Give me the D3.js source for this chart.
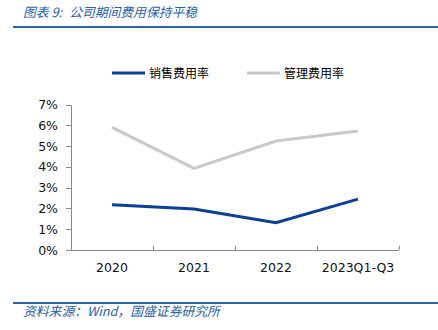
<!DOCTYPE html>
<html><head><meta charset="utf-8">
<script src="https://cdn.jsdelivr.net/npm/d3@7"></script>
<style>
body{margin:0;background:#fff;}
svg{display:block;}
</style></head><body>
<svg id="c" width="438" height="330"></svg>
<script>
const categories = ["2020","2021","2022","2023Q1-Q3"];
const salesRate = [2.18, 1.97, 1.31, 2.45];
const adminRate = [5.90, 3.93, 5.24, 5.72];
const yTicks = [0,1,2,3,4,5,6,7];
const seriesNames = ["销售费用率","管理费用率"];
const seriesColors = ["#0B3F97","#C9C9C9"];

const svg = d3.select("#c");
const font = "'Noto Sans CJK SC', sans-serif";
const numFont = "'DejaVu Sans', Verdana, sans-serif";
const titleBlue = "#2B5EA8";

const t = svg.append("text").attr("x",23).attr("y",17).attr("font-family",font)
  .attr("font-size",12.8).attr("font-style","italic").attr("fill",titleBlue);
t.append("tspan").text("图表 9:");
t.append("tspan").attr("dx",7).text("公司期间费用保持平稳");
svg.append("line").attr("x1",13).attr("x2",438).attr("y1",27).attr("y2",27)
  .attr("stroke","#2E63AA").attr("stroke-width",2.2);

svg.append("line").attr("x1",13).attr("x2",438).attr("y1",303).attr("y2",303)
  .attr("stroke","#2E63AA").attr("stroke-width",2.2);
svg.append("text").attr("x",23).attr("y",316).attr("font-family",font)
  .attr("font-size",12.8).attr("font-style","italic").attr("fill",titleBlue)
  .text("资料来源：Wind，国盛证券研究所");

const x = d3.scaleBand().domain(categories).range([71,399]);
const y = d3.scaleLinear().domain([0,7]).range([250,104.5]);

// y axis
const yAxis = svg.append("g").attr("transform","translate(71,0)")
  .call(d3.axisLeft(y).tickValues(yTicks).tickFormat(d=>d+"%").tickSize(5).tickPadding(8));
yAxis.selectAll("path,line").attr("stroke","#888").attr("shape-rendering","crispEdges");
yAxis.selectAll("text").attr("font-family",numFont).attr("font-size",12.5).attr("fill","#111");

// x axis with inward ticks at band boundaries
const xg = svg.append("g").attr("transform","translate(0,250)");
xg.append("line").attr("x1",71).attr("x2",399).attr("y1",0).attr("y2",0)
  .attr("stroke","#888").attr("shape-rendering","crispEdges");
const bounds = categories.map(c=>x(c)+x.bandwidth());
xg.selectAll("line.tk").data(bounds).enter().append("line").attr("class","tk")
  .attr("x1",d=>d).attr("x2",d=>d).attr("y1",0).attr("y2",-4)
  .attr("stroke","#888").attr("shape-rendering","crispEdges");
xg.selectAll("text").data(categories).enter().append("text")
  .attr("x",d=>x(d)+x.bandwidth()/2).attr("y",22).attr("text-anchor","middle")
  .attr("font-family",numFont).attr("font-size",12.5).attr("fill","#111")
  .text(d=>d);

const line = d3.line().x((d,i)=>x(categories[i])+x.bandwidth()/2).y(d=>y(d));
[adminRate, salesRate].forEach((s,k)=>{
  const ci = k===0?1:0;
  svg.append("path").datum(s).attr("d",line).attr("fill","none")
    .attr("stroke",seriesColors[ci]).attr("stroke-width",3).attr("stroke-linejoin","miter");
});

// legend
const legX = [112, 247];
seriesNames.forEach((n,i)=>{
  svg.append("line").attr("x1",legX[i]).attr("x2",legX[i]+33).attr("y1",73).attr("y2",73)
    .attr("stroke",seriesColors[i]).attr("stroke-width",3);
  svg.append("text").attr("x",legX[i]+37).attr("y",77.5).attr("font-family",font)
    .attr("font-size",12).attr("fill","#000").text(n);
});
</script></body></html>
